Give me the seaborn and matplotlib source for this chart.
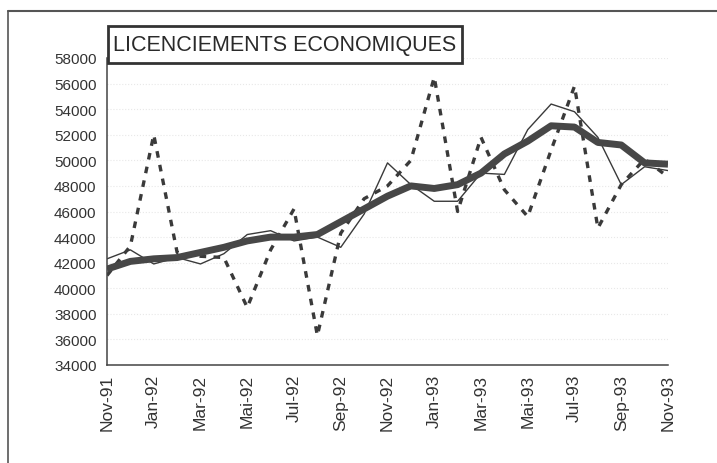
import pandas as pd
import matplotlib.pyplot as plt
import seaborn as sns

# Monthly data, Nov-91 .. Nov-93 (25 months)
months = ["Nov-91", "Dec-91", "Jan-92", "Feb-92", "Mar-92", "Apr-92", "Mai-92",
          "Jun-92", "Jul-92", "Aug-92", "Sep-92", "Oct-92", "Nov-92", "Dec-92",
          "Jan-93", "Feb-93", "Mar-93", "Apr-93", "Mai-93", "Jun-93", "Jul-93",
          "Aug-93", "Sep-93", "Oct-93", "Nov-93"]

brut = [41000, 43300, 52000, 42800, 42500, 42400, 38500, 43000, 46200, 36300,
        44300, 47000, 48000, 50000, 56500, 46000, 51800, 47700, 45600, 50800,
        55800, 44700, 48100, 50100, 48700]

lisse = [42300, 43000, 41900, 42400, 41900, 42700, 44200, 44500, 43700, 44000,
         43200, 45800, 49800, 48100, 46800, 46800, 49000, 48900, 52400, 54400,
         53800, 51800, 48100, 49500, 49200]

tendance = [41500, 42100, 42300, 42400, 42800, 43200, 43700, 44000, 44000, 44200,
            45200, 46200, 47200, 48000, 47800, 48100, 49000, 50500, 51500, 52700,
            52600, 51400, 51200, 49800, 49700]

yticks = list(range(34000, 58001, 2000))

df = pd.DataFrame({"idx": range(len(months)), "brut": brut,
                   "lisse": lisse, "tendance": tendance})

sns.set_style("white")
plt.rcParams["font.family"] = ["Liberation Sans", "DejaVu Sans"]

fig = plt.figure(figsize=(7.17, 4.64), dpi=100)
ax = fig.add_axes([107 / 717, 1 - 366 / 464, (668 - 107) / 717, (366 - 59) / 464])

c = "#3a3a3a"
sns.lineplot(data=df, x="idx", y="brut", ax=ax, color=c, lw=2.4,
             linestyle=(0, (2.0, 2.2)))
sns.lineplot(data=df, x="idx", y="lisse", ax=ax, color=c, lw=1.0)
sns.lineplot(data=df, x="idx", y="tendance", ax=ax, color="#474747", lw=5,
             solid_capstyle="butt")

ax.set_xlim(0, len(months) - 1)
ax.set_ylim(34000, 58000)
ax.set_yticks(yticks)
ax.set_yticklabels([str(v) for v in yticks], fontsize=11, color="#333333")
ax.set_xticks(range(len(months)))
ax.set_xticklabels([m if i % 2 == 0 else "" for i, m in enumerate(months)],
                   rotation=90, fontsize=12.5, color="#333333")
ax.tick_params(axis="both", direction="inout", length=9, width=1, color="#444444",
               pad=2)
ax.tick_params(axis="y", pad=3)
ax.set_xlabel("")
ax.set_ylabel("")

for s in ["top", "right"]:
    ax.spines[s].set_visible(False)
for s in ["left", "bottom"]:
    ax.spines[s].set_color("#444444")
    ax.spines[s].set_linewidth(1.1)

ax.grid(axis="y", color="#e8e8e8", linestyle=":", linewidth=0.8)
ax.set_axisbelow(True)

# Title inside a framed box
fig.add_artist(plt.Rectangle((108 / 717, 1 - 64 / 464), (462 - 108) / 717, 37 / 464,
                             transform=fig.transFigure, fc="white", ec="#333333",
                             lw=2, zorder=5))
fig.text(113 / 717, 1 - 46 / 464, "LICENCIEMENTS ECONOMIQUES", fontsize=15.5,
         color="#2a2a2a", va="center", ha="left", zorder=6)

# Outer frame of the picture (top and left edges)
fig.add_artist(plt.Line2D([8 / 717, 8 / 717], [0, 1 - 12 / 464], color="#555555", lw=1.2))
fig.add_artist(plt.Line2D([8 / 717, 1], [1 - 12 / 464, 1 - 12 / 464], color="#555555", lw=1.5))

fig.savefig("out.png", dpi=100)
